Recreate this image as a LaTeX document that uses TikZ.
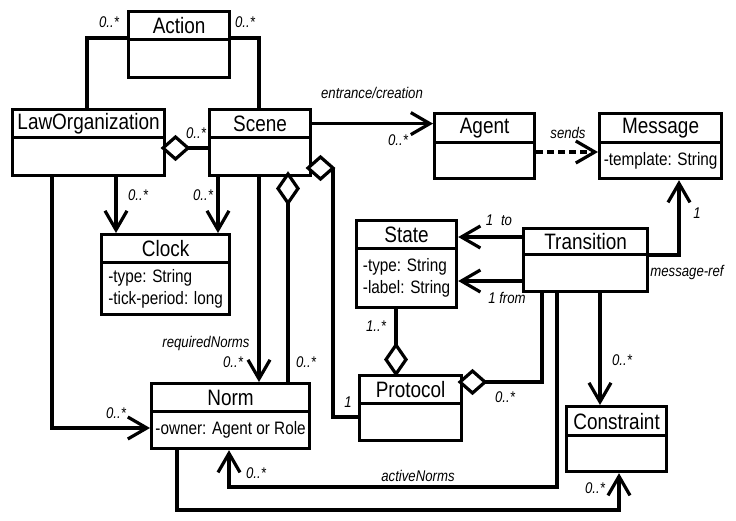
\documentclass[tikz,border=0pt]{standalone}
\usepackage{fontspec}
\setmainfont{Liberation Sans}[FakeStretch=0.85]
\usetikzlibrary{arrows.meta}
\tikzset{
 box/.style={draw, line width=3.2pt, inner sep=0pt, anchor=north west, fill=white},
 ttl/.style={box, font=\fontsize{22.3}{24}\selectfont},
 bdy/.style={box, font=\fontsize{18}{22}\selectfont, align=left},
 conn/.style={line width=3.2pt},
 opentip/.style={conn, -{Straight Barb[length=19pt,width=22pt]}},
 dia/.style={line width=3.2pt, line join=miter, fill=white},
 lbl/.style={font=\itshape\fontsize{15.5}{16}\selectfont, inner sep=0pt},
}
\newcommand\umlclass[8]{%
 \node[ttl, minimum width={#4pt-#2pt}, minimum height={#5pt-#3pt}] (#1) at (#2,#3) {#7};
 \node[bdy, minimum width={#4pt-#2pt}, minimum height={#6pt-#5pt}] (#1b) at (#2,#5) {#8};}
% horizontal diamond: name, x of near vertex, y, direction (+1 right, -1 left)
\newcommand\diaH[3]{%
 \draw[dia] (#2,#3) -- ++(12.5,-11) -- ++(12.5,11) -- ++(-12.5,11) -- cycle;
 \coordinate (#1) at (#2+25,#3);}
% vertical diamond: name, x, y of near vertex, sign (+1 down, -1 up)
\newcommand\diaV[4]{%
 \draw[dia] (#2,#3) -- ++(-10,#4*14.5) -- ++(10,#4*14.5) -- ++(10,-#4*14.5) -- cycle;
 \coordinate (#1) at (#2,#3+#4*29);}
\begin{document}
\begin{tikzpicture}[x=1pt,y=-1pt]
\useasboundingbox (0,0) rectangle (736,520);
% classes
\umlclass{act}{127}{10}{228}{38}{76}{Action}{}
\umlclass{law}{11}{108}{163}{136}{174}{LawOrganization}{}
\umlclass{scn}{208}{108}{309}{136}{174}{Scene}{}
\umlclass{agt}{433}{112}{533}{141}{177}{Agent}{}
\umlclass{msg}{598}{112}{720}{141}{177}{Message}{-template: String}
\umlclass{clk}{100}{233}{228}{261}{313}{Clock}{-type: String\\-tick-period: long}
\umlclass{sta}{355}{219}{455}{247}{306}{State}{-type: String\\-label: String}
\umlclass{trn}{522}{227}{646}{253}{290}{Transition}{}
\umlclass{pro}{358}{374}{460}{402}{439}{Protocol}{}
\umlclass{nrm}{150}{382}{308}{410}{447}{Norm}{-owner: Agent or Role}
\umlclass{con}{565}{405}{665}{434}{470}{Constraint}{}
% connectors
\draw[conn] (actb.north west) -| (law.north -| 87,0);
\draw[conn] (actb.north east) -| (scn.north -| 259,0);
\draw[conn] (188,148) coordinate (dlaw) -- (scnb.west |- dlaw);
\draw[opentip] (scn.east) -- (agt.west |- scn.east);
\draw[opentip, dash pattern=on 7pt off 4pt] (agtb.east |- 0,152) -- (msgb.west |- 0,152);
\draw[opentip] (lawb.south -| 116,0) -- (clk.north -| 116,0);
\draw[opentip] (scnb.south -| 218,0) -- (clk.north -| 218,0);
\draw[opentip] (scnb.south -| 259,0) -- (nrm.north -| 259,0);
\draw[conn] (288,203) coordinate (dscn) -- (nrm.north -| dscn);
\draw[conn] (333,168) coordinate (dcor) |- (pro.west |- 0,417);
\draw[conn] (396,345) coordinate (dpro) -- (stab.south -| dpro);
\draw[opentip] (trn.west |- 0,237) -- (sta.east |- 0,237);
\draw[opentip] (trnb.west |- 0,281) -- (stab.east |- 0,281);
\draw[opentip] (trnb.east |- 0,255) -| (msgb.south -| 679,0);
\draw[conn] (485,382) coordinate (dprr) -| (trnb.south -| 542,0);
\draw[opentip] (trnb.south -| 557,0) -- (557,487) -| (nrmb.south -| 229,0);
\draw[opentip] (trnb.south -| 600,0) -- (con.north -| 600,0);
\draw[opentip] (nrmb.south -| 177,0) -- (177,510) -| (conb.south -| 619,0);
\draw[opentip] (lawb.south -| 52,0) |- (nrmb.west |- 0,428);
% aggregation diamonds
\diaH{d1}{163}{148}
\diaH{d2}{308}{168}
\diaV{d3}{288}{174}{1}
\diaV{d4}{396}{374}{-1}
\diaH{d5}{460}{382}
% labels
\node[lbl] (m1) at (109,22) {0..*};
\node[lbl] (m2) at (245,22) {0..*};
\node[lbl] (m3) at (196,133) {0..*};
\node[lbl] (m4) at (372,93) {entrance/creation};
\node[lbl] (m5) at (398,140) {0..*};
\node[lbl] (m6) at (568,133) {sends};
\node[lbl] (m7) at (138,195) {0..*};
\node[lbl] (m8) at (203,195) {0..*};
\node[lbl] (m9) at (206,343) {requiredNorms};
\node[lbl] (m10) at (233,362) {0..*};
\node[lbl] (m11) at (306,362) {0..*};
\node[lbl] (m12) at (116,413) {0..*};
\node[lbl] (m13) at (348,402) {1};
\node[lbl] (m14) at (256,473) {0..*};
\node[lbl] (m15) at (418,476) {activeNorms};
\node[lbl] (m16) at (595,488) {0..*};
\node[lbl] (m17) at (622,360) {0..*};
\node[lbl] (m18) at (505,397) {0..*};
\node[lbl] (m19) at (376,326) {1..*};
\node[lbl] (m20) at (499,220) {1\enspace to};
\node[lbl] (m21) at (507,298) {1 from};
\node[lbl] (m22) at (687,272) {message-ref};
\node[lbl] (m23) at (697,213) {1};
\end{tikzpicture}
\end{document}
